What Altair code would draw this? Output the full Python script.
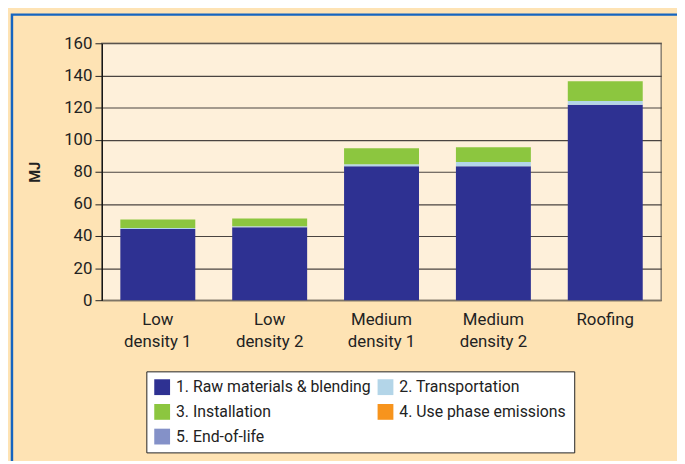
import altair as alt
import pandas as pd

categories = ["Low density 1", "Low density 2", "Medium density 1", "Medium density 2", "Roofing"]
stages = ["1. Raw materials & blending", "2. Transportation", "3. Installation",
          "4. Use phase emissions", "5. End-of-life"]
colors = ["#2E3192", "#B3D5E8", "#8CC63F", "#F7941D", "#8491C8"]

raw_materials = [44.3, 45.5, 83.5, 83.5, 121.7]
transportation = [0.6, 0.5, 1.2, 2.5, 2.4]
installation = [5.4, 4.9, 9.9, 9.2, 12.3]
use_phase = [0, 0, 0, 0, 0]
end_of_life = [0, 0, 0, 0, 0]

series = [raw_materials, transportation, installation, use_phase, end_of_life]
rows = []
for si, (stage, vals) in enumerate(zip(stages, series)):
    for cat, v in zip(categories, vals):
        rows.append({"category": cat, "stage": stage, "idx": si, "MJ": v})
df = pd.DataFrame(rows)

FONT = "Roboto"

bars = alt.Chart(df).mark_bar().encode(
    x=alt.X("category:N", sort=categories, title=None,
            scale=alt.Scale(paddingInner=0.33, paddingOuter=0.165),
            axis=alt.Axis(labelAngle=0, ticks=False, domain=True, domainColor="#8a8070",
                          labelFontSize=17, labelColor="#222", labelPadding=12,
                          labelLineHeight=22, labelFont=FONT,
                          labelExpr="indexof(datum.label, ' ') < 0 ? datum.label : [substring(datum.label, 0, indexof(datum.label, ' ')), substring(datum.label, indexof(datum.label, ' ') + 1)]")),
    y=alt.Y("MJ:Q", stack="zero", title="MJ",
            scale=alt.Scale(domain=[0, 160], nice=False),
            axis=alt.Axis(values=list(range(0, 161, 20)), tickSize=7, tickColor="#222",
                          domainColor="#111", domainWidth=1.2,
                          grid=True, gridColor="#4a4440", gridWidth=1.1,
                          labelFontSize=17, labelColor="#222", labelPadding=3, labelFont=FONT,
                          titleFontSize=15, titleFontWeight="bold", titleFont=FONT,
                          titleColor="#222", titleX=-60, titleY=130, titleAngle=-90)),
    color=alt.Color("stage:N", scale=alt.Scale(domain=stages, range=colors),
                    legend=alt.Legend(orient="none", legendX=45, legendY=332, columns=2,
                                      direction="horizontal",
                                      title=None, fillColor="white", strokeColor="#222",
                                      padding=8, symbolType="square", symbolSize=256,
                                      symbolStrokeWidth=0, labelFontSize=16, labelFont=FONT,
                                      labelColor="#222", rowPadding=9, columnPadding=6,
                                      labelOffset=6, labelLimit=400, symbolOpacity=1)),
    order=alt.Order("idx:Q", sort="ascending"),
)

border = alt.Chart(pd.DataFrame({"a": [0]})).mark_rect(
    fill="transparent", stroke="#1565C0", strokeWidth=2.5
).encode(x=alt.value(-91), x2=alt.value(700), y=alt.value(-29), y2=alt.value(600))

chart = alt.layer(bars, border).properties(
    width=566, height=260,
    background="#FEE3B4",
    padding={"left": 95, "top": 33, "right": 16, "bottom": 160},
    autosize=alt.AutoSizeParams(type="none"),
).configure_view(fill="#FEF0DA", stroke="#8a8070", strokeWidth=1.5)

chart.save("out.html", embed_options={"renderer": "svg", "actions": False})
